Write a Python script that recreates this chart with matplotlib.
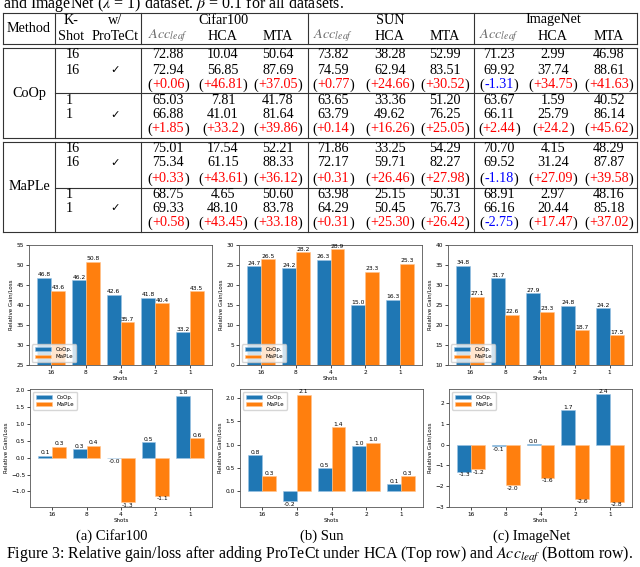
# relative gain/loss figure: results table on top, six bar charts below
import matplotlib.pyplot as plt
import numpy as np

plt.rcParams['mathtext.fontset'] = 'stix'

# table values: columns are Cifar100 (Acc_leaf, HCA, MTA), SUN (...), ImageNet (...)
coop_16_base = [72.88, 10.04, 50.64, 73.82, 38.28, 52.99, 71.23, 2.99, 46.98]
coop_16_protect = [72.94, 56.85, 87.69, 74.59, 62.94, 83.51, 69.92, 37.74, 88.61]
coop_16_delta = ["+0.06", "+46.81", "+37.05", "+0.77", "+24.66", "+30.52", "-1.31", "+34.75", "+41.63"]
coop_1_base = [65.03, 7.81, 41.78, 63.65, 33.36, 51.20, 63.67, 1.59, 40.52]
coop_1_protect = [66.88, 41.01, 81.64, 63.79, 49.62, 76.25, 66.11, 25.79, 86.14]
coop_1_delta = ["+1.85", "+33.2", "+39.86", "+0.14", "+16.26", "+25.05", "+2.44", "+24.2", "+45.62"]
maple_16_base = [75.01, 17.54, 52.21, 71.86, 33.25, 54.29, 70.70, 4.15, 48.29]
maple_16_protect = [75.34, 61.15, 88.33, 72.17, 59.71, 82.27, 69.52, 31.24, 87.87]
maple_16_delta = ["+0.33", "+43.61", "+36.12", "+0.31", "+26.46", "+27.98", "-1.18", "+27.09", "+39.58"]
maple_1_base = [68.75, 4.65, 50.60, 63.98, 25.15, 50.31, 68.91, 2.97, 48.16]
maple_1_protect = [69.33, 48.10, 83.78, 64.29, 50.45, 76.73, 66.16, 20.44, 85.18]
maple_1_delta = ["+0.58", "+43.45", "+33.18", "+0.31", "+25.30", "+26.42", "-2.75", "+17.47", "+37.02"]

datasets = ["Cifar100", "SUN", "ImageNet"]
metrics = ["$Acc_{leaf}$", "HCA", "MTA"]

# bar chart values
shots = ["16", "8", "4", "2", "1"]
hca_cifar_coop = [46.8, 46.2, 42.6, 41.8, 33.2]
hca_cifar_maple = [43.6, 50.8, 35.7, 40.4, 43.5]
hca_sun_coop = [24.7, 24.2, 26.3, 15.0, 16.3]
hca_sun_maple = [26.5, 28.2, 28.9, 23.3, 25.3]
hca_imnet_coop = [34.8, 31.7, 27.9, 24.8, 24.2]
hca_imnet_maple = [27.1, 22.6, 23.3, 18.7, 17.5]
acc_cifar_coop = [0.06, 0.26, -0.01, 0.46, 1.84]
acc_cifar_maple = [0.33, 0.36, -1.32, -1.13, 0.58]
acc_sun_coop = [0.77, -0.23, 0.49, 0.96, 0.14]
acc_sun_maple = [0.31, 2.08, 1.37, 1.04, 0.31]
acc_imnet_coop = [-1.31, -0.07, 0.02, 1.66, 2.44]
acc_imnet_maple = [-1.18, -1.96, -1.60, -2.62, -2.76]

W, H = 640, 567
fig = plt.figure(figsize=(6.4, 5.67), dpi=100)
bg = fig.add_axes([0, 0, 1, 1])
bg.set_xlim(0, W)
bg.set_ylim(H, 0)
bg.axis('off')

serif = 'Liberation Serif'
fs = 10.2
lc = '#333333'

bg.text(3, 8, r"and ImageNet ($\lambda$ = 1) dataset. $\beta$ = 0.1 for all datasets.",
        family=serif, fontsize=11.5, va='baseline', ha='left')

# table grid
vx = [3, 55, 141, 308, 474, 637]
for top, bot in [(13, 44), (48, 138), (142, 232)]:
    bg.plot([3, 637], [top, top], color=lc, lw=0.8)
    bg.plot([3, 637], [bot, bot], color=lc, lw=0.8)
    for x in vx:
        bg.plot([x, x], [top, bot], color=lc, lw=0.8)
for y in [93, 188]:
    bg.plot([55, 637], [y, y], color=lc, lw=0.8)

# header
bg.text(29, 28, "Method", family=serif, fontsize=fs, ha='center', va='center')
bg.text(71, 20, "K-", family=serif, fontsize=fs, ha='center', va='center')
bg.text(71, 36, "Shot", family=serif, fontsize=fs, ha='center', va='center')
bg.text(115, 20, "w/", family=serif, fontsize=fs, ha='center', va='center')
bg.text(115, 36, "ProTeCt", family=serif, fontsize=fs, ha='center', va='center')
col_x = [168, 223, 278, 333, 390, 445, 499, 553, 609]
for i, name in enumerate(datasets):
    bg.text(col_x[3 * i + 1], 20, name, family=serif, fontsize=fs, ha='center', va='center')
    for j, m in enumerate(metrics):
        col = 'dimgray' if j == 0 else 'black'
        bg.text(col_x[3 * i + j], 36, m, family=serif, fontsize=fs, ha='center', va='center', color=col)

# table body
blocks = [
    ("CoOp", 93, [("16", coop_16_base, coop_16_protect, coop_16_delta, [54, 70, 85]),
                  ("1", coop_1_base, coop_1_protect, coop_1_delta, [100, 115, 129])]),
    ("MaPLe", 187, [("16", maple_16_base, maple_16_protect, maple_16_delta, [148, 163, 179]),
                    ("1", maple_1_base, maple_1_protect, maple_1_delta, [194, 208, 223])]),
]
for method, my, groups in blocks:
    bg.text(29, my, method, family=serif, fontsize=fs, ha='center', va='center')
    for k, base, prot, delta, ys in groups:
        bg.text(66, ys[0], k, family=serif, fontsize=fs, ha='left', va='center')
        bg.text(66, ys[1], k, family=serif, fontsize=fs, ha='left', va='center')
        bg.text(115, ys[1], "\u2713", family='DejaVu Sans', fontsize=fs - 2, ha='center', va='center')
        for c in range(9):
            bg.text(col_x[c], ys[0], "%.2f" % base[c], family=serif, fontsize=fs, ha='center', va='center')
            bg.text(col_x[c], ys[1], "%.2f" % prot[c], family=serif, fontsize=fs, ha='center', va='center')
            d = delta[c]
            dcol = '#ff0000' if d.startswith('+') else '#0000ff'
            t = bg.text(col_x[c], ys[2], d, family=serif, fontsize=fs, ha='center', va='center', color=dcol)
            # parentheses in black
            bg.annotate("(", xy=(0, 0.5), xycoords=t, ha='right', va='center',
                        family=serif, fontsize=fs)
            bg.annotate(")", xy=(1, 0.5), xycoords=t, ha='left', va='center',
                        family=serif, fontsize=fs)


def px_axes(l, t, r, b):
    return fig.add_axes([l / W, 1 - b / H, (r - l) / W, (b - t) / H])


def bar_chart(ax, coop, maple, ylim, legend_loc):
    x = np.arange(len(shots))
    b1 = ax.bar(x - 0.2, coop, 0.4, color='#1f77b4', edgecolor='#9cc3e4', lw=0.4, label='CoOp.')
    b2 = ax.bar(x + 0.2, maple, 0.4, color='#ff7f0e', edgecolor='#ffc58f', lw=0.4, label='MaPLe')
    ax.bar_label(b1, fmt='%.1f', fontsize=4.3, padding=0.3)
    ax.bar_label(b2, fmt='%.1f', fontsize=4.3, padding=0.3)
    ax.set_ylim(*ylim)
    ax.set_xticks(x)
    ax.set_xticklabels(shots)
    ax.tick_params(labelsize=4.2, length=2, width=0.5, pad=1.5)
    ax.set_xlabel("Shots", fontsize=4, labelpad=1)
    ax.set_ylabel("Relative Gain/Loss", fontsize=4, labelpad=2)
    for s in ax.spines.values():
        s.set_linewidth(0.6)
        s.set_color('#555555')
    ax.legend(loc=legend_loc, fontsize=4, handlelength=3, borderpad=0.5, labelspacing=0.4)


top_boxes = [(29, 245, 212, 365), (239, 245, 422, 365), (448, 245, 632, 365)]
bot_boxes = [(30, 389, 212, 507), (240, 389, 423, 507), (449, 389, 632, 507)]
top_data = [(hca_cifar_coop, hca_cifar_maple, (25, 55)),
            (hca_sun_coop, hca_sun_maple, (0, 30)),
            (hca_imnet_coop, hca_imnet_maple, (10, 40))]
bot_data = [(acc_cifar_coop, acc_cifar_maple, (-1.46, 2.04)),
            (acc_sun_coop, acc_sun_maple, (-0.35, 2.2)),
            (acc_imnet_coop, acc_imnet_maple, (-3.01, 2.70))]
for box, (c, m, yl) in zip(top_boxes, top_data):
    bar_chart(px_axes(*box), c, m, yl, 'lower left')
for box, (c, m, yl) in zip(bot_boxes, bot_data):
    bar_chart(px_axes(*box), c, m, yl, 'upper left')

# sub captions and figure caption
for cx, s in [(112, "(a) Cifar100"), (322, "(b) Sun"), (532, "(c) ImageNet")]:
    bg.text(cx, 536, s, family=serif, fontsize=10.5, ha='center', va='center')
bg.text(320, 555, "Figure 3: Relative gain/loss after adding ProTeCt under HCA (Top row) and $Acc_{leaf}$ (Bottom row).",
        family=serif, fontsize=11.4, ha='center', va='center')

fig.savefig("out.png", dpi=100)
